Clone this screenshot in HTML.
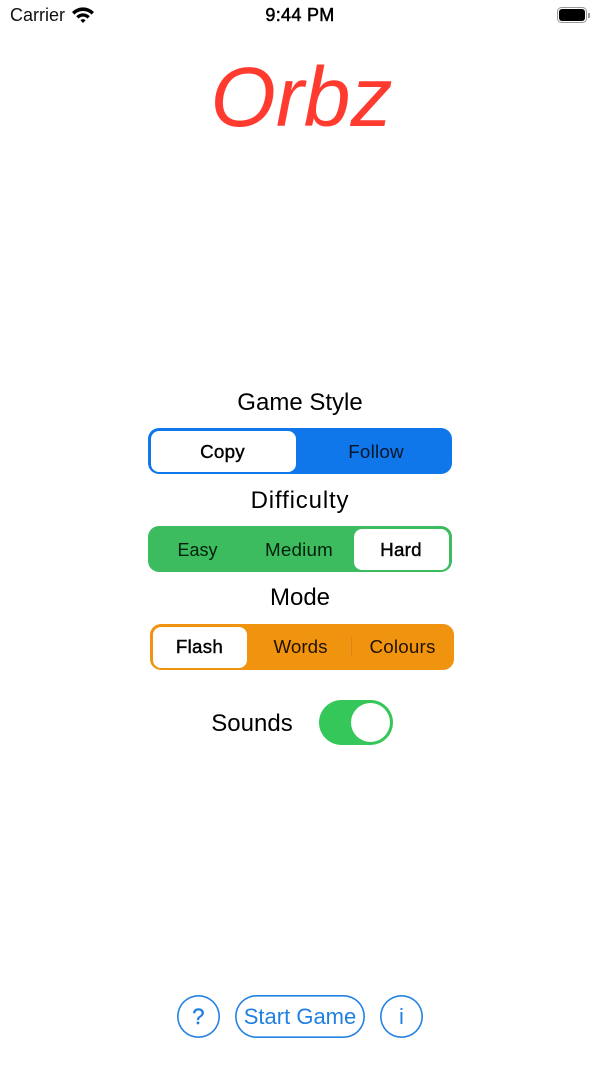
<!DOCTYPE html>
<html>
<head>
<meta charset="utf-8">
<style>
html,body{margin:0;padding:0;background:#fff}
body{width:600px;height:1067px;position:relative;overflow:hidden;font-family:"Liberation Sans",sans-serif;color:#000}
.t{position:absolute;white-space:nowrap;text-align:center;transform:translateX(-50%)}
.lab{font-size:24px;line-height:28px}
.seg{font-size:18.8px;line-height:22px}
.box{position:absolute;box-sizing:border-box}
.b{-webkit-text-stroke:.4px currentColor;letter-spacing:.25px}
.o{box-shadow:inset 0 0 0 1.6px #2483e2}
</style>
</head>
<body>
<div class="t" style="left:37.5px;top:5px;font-size:18px;line-height:20px;color:#111">Carrier</div>
<svg style="position:absolute;left:71px;top:5px" width="24" height="19" viewBox="0 0 24 19">
<path d="M1 7 A15.5 15.5 0 0 1 23 7 L20.6 9.6 A12 12 0 0 0 3.4 9.6 Z" fill="#000"/>
<path d="M5.2 11.2 A9.5 9.5 0 0 1 18.8 11.2 L16.4 13.6 A6 6 0 0 0 7.6 13.6 Z" fill="#000"/>
<path d="M9.4 15.2 A3.8 3.8 0 0 1 14.6 15.2 L12 18 Z" fill="#000"/>
</svg>
<div class="t" style="left:300px;top:5px;font-size:18px;line-height:20px;letter-spacing:.3px;-webkit-text-stroke:.5px #000">9:44 PM</div>
<div class="box" style="left:557px;top:7px;width:30px;height:16px;border:1px solid #999;border-radius:4.5px"></div>
<div class="box" style="left:559px;top:9px;width:26px;height:12px;background:#000;border-radius:3px"></div>
<div class="box" style="left:588px;top:12.5px;width:1.5px;height:5px;background:#999"></div>

<div class="t" style="left:301.5px;top:52px;font-size:84px;line-height:90px;font-style:italic;color:#ff3b30">Orbz</div>

<div class="t lab" style="left:300px;top:389px">Game Style</div>
<div class="box" style="left:148px;top:428px;width:304px;height:46px;background:#0f77ea;border-radius:11px"></div>
<div class="box" style="left:151px;top:431px;width:145px;height:41px;background:#fff;border-radius:8px"></div>
<div class="t seg b" style="left:222.5px;top:441px">Copy</div>
<div class="t seg" style="left:376px;top:441px;color:#03152b;letter-spacing:.2px">Follow</div>

<div class="t lab" style="left:300px;top:487px;letter-spacing:.85px">Difficulty</div>
<div class="box" style="left:148px;top:526px;width:304px;height:46px;background:#3dbb5f;border-radius:11px"></div>
<div class="box" style="left:354px;top:529px;width:95px;height:41px;background:#fff;border-radius:8px"></div>
<div class="t seg" style="left:197.5px;top:539px;color:#03200c;font-size:18px">Easy</div>
<div class="t seg" style="left:299px;top:539px;color:#03200c;letter-spacing:.2px">Medium</div>
<div class="t seg b" style="left:401px;top:539px">Hard</div>

<div class="t lab" style="left:300px;top:584px">Mode</div>
<div class="box" style="left:149.5px;top:623.5px;width:304px;height:46px;background:#f0930f;border-radius:11px"></div>
<div class="box" style="left:152.5px;top:626.5px;width:94.5px;height:41px;background:#fff;border-radius:8px"></div>
<div class="box" style="left:351px;top:637px;width:1px;height:19px;background:#d98510"></div>
<div class="t seg b" style="left:199.5px;top:636px">Flash</div>
<div class="t seg" style="left:300.5px;top:636px;color:#201300">Words</div>
<div class="t seg" style="left:402.5px;top:636px;color:#201300;letter-spacing:.2px">Colours</div>

<div class="t lab" style="left:252px;top:710px">Sounds</div>
<div class="box" style="left:319px;top:700px;width:74px;height:45px;background:#35c759;border-radius:23px"></div>
<div class="box" style="left:351px;top:703px;width:39px;height:39px;background:#fff;border-radius:50%"></div>

<div class="box o" style="left:177px;top:995px;width:43px;height:43px;border-radius:50%"></div>
<div class="t b" style="left:198.5px;top:1003px;font-size:22px;line-height:27px;color:#1f80e0">?</div>
<div class="box o" style="left:235px;top:995px;width:130px;height:43px;border-radius:22px"></div>
<div class="t" style="left:300px;top:1003px;font-size:22px;line-height:27px;color:#1f80e0">Start Game</div>
<div class="box o" style="left:380px;top:995px;width:43px;height:43px;border-radius:50%"></div>
<div class="t" style="left:401.5px;top:1003px;font-size:22px;line-height:27px;color:#1f80e0">i</div>
</body>
</html>
